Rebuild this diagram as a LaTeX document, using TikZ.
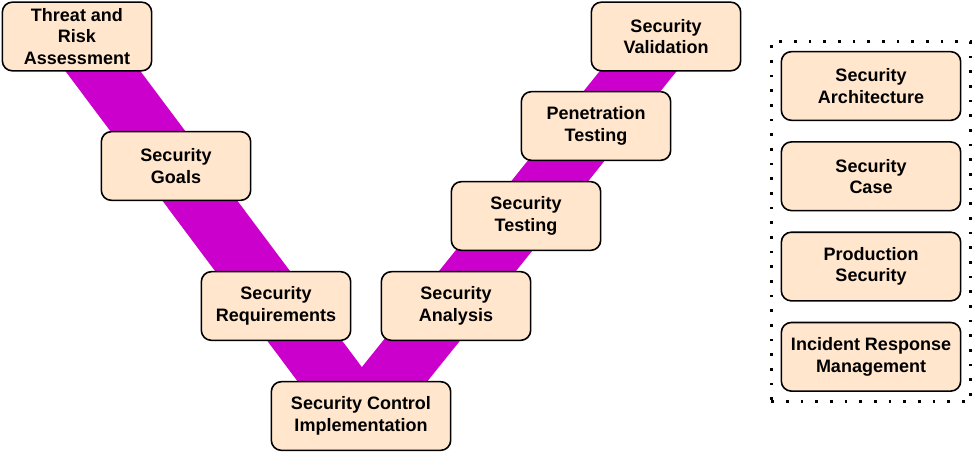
\documentclass[tikz,border=0pt]{standalone}
\usepackage{fontspec}
\setmainfont{Liberation Sans}
\usepackage{tikz}
\usetikzlibrary{positioning,fit,backgrounds}

\definecolor{phasefill}{HTML}{FFE6CC}
\definecolor{vpurple}{HTML}{CC00CC}

\begin{document}
\begin{tikzpicture}[
    x=0.75pt, y=-0.75pt,
    node distance=15pt,
    phase/.style={rectangle, draw, line width=1.2pt, rounded corners=7.5pt, minimum width=112pt, minimum height=51.5pt, align=center, fill=phasefill, inner sep=2pt, font=\fontsize{13.5}{16}\selectfont\bfseries},
    wide/.style={phase, minimum width=134.5pt},
    band/.style={draw=vpurple, line width=45pt, line join=round},
    panel/.style={draw, line width=2pt, dash pattern=on 2pt off 9pt, inner sep=7pt}
]
    \useasboundingbox (0,0) rectangle (973,452);

    % left arm of the V
    \node[phase] (threat) at (77,36.5) {Threat and\\Risk\\Assessment};
    \node[phase] (goals) at (176,166) {Security\\Goals};
    \node[phase] (requirements) at (276,306) {Security\\Requirements};
    \node[wide] (control) at (361,416) {Security Control\\Implementation};

    % right arm of the V
    \node[phase] (analysis) at (456,306) {Security\\Analysis};
    \node[phase] (testing) at (526,216) {Security\\Testing};
    \node[phase] (pentest) at (596,126) {Penetration\\Testing};
    \node[phase] (validation) at (666,36.5) {Security\\Validation};

    % side column
    \node[wide] (architecture) at (871,86) {Security\\Architecture};
    \node[wide, below=of architecture] (case) {Security\\Case};
    \node[wide, below=of case] (production) {Production\\Security};
    \node[wide, below=of production] (incident) {Incident Response\\Management};
    \node[panel, fit=(architecture)(incident)] (panel) {};

    \begin{scope}[on background layer]
        \draw[band] (threat.center) -- (control.center) -- (validation.center);
    \end{scope}
\end{tikzpicture}
\end{document}
